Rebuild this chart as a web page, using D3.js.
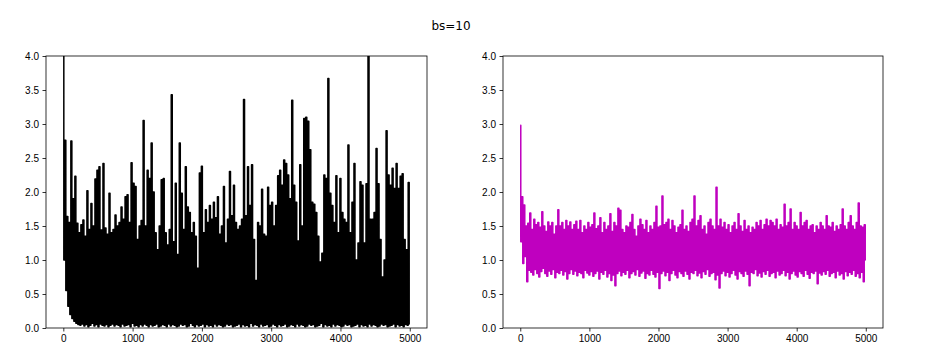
<!DOCTYPE html>
<html>
<head>
<meta charset="utf-8">
<script src="https://cdn.jsdelivr.net/npm/d3@7/dist/d3.min.js"></script>
<style>
  body { margin: 0; background: #fff; }
  svg { display: block; font-family: "DejaVu Sans", sans-serif; }
  .tick text { font-size: 10px; fill: #000; }
  .tick line { stroke: #000; stroke-width: 0.8; }
</style>
</head>
<body>
<script>
// training steps, shown on both x axes
var nSteps = 5000;
var xTicks = [0, 1000, 2000, 3000, 4000, 5000];
var yTicks = [0, 0.5, 1, 1.5, 2, 2.5, 3, 3.5, 4];
var title = "bs=10";

// left plot (black): local highs and lows left to right
var lossPeaks = [
  4.1,2.76,1.64,1.55,2.75,1.9,2.23,1.54,1.4,1.52,
  1.59,1.35,2.02,1.45,1.83,1.5,2.19,2.32,2.37,1.44,
  2.42,1.47,1.38,1.98,1.4,1.45,1.66,1.5,1.55,1.78,
  1.6,1.93,1.96,1.55,2.43,2.13,2.08,1.3,1.5,1.58,
  3.05,1.5,2.32,2.2,2.72,2.0,1.4,1.15,1.5,2.18,
  2.2,1.4,1.22,1.45,3.43,1.27,2.13,1.08,2.72,1.98,
  1.45,2.37,1.78,1.7,1.4,1.55,1.35,0.88,2.28,2.38,
  1.4,1.74,1.55,1.8,1.6,1.85,1.62,1.93,1.38,1.5,
  2.08,1.25,1.6,2.3,1.65,2.1,1.55,1.45,1.5,1.6,
  3.36,1.65,2.37,1.8,2.4,1.3,0.7,1.55,1.5,2.04,
  1.38,1.35,2.07,1.8,1.85,1.5,1.8,2.24,2.32,2.1,
  2.47,2.42,2.25,1.9,3.35,2.1,1.85,1.28,2.4,1.5,
  3.08,3.1,3.04,2.62,1.85,1.82,1.7,1.35,0.97,1.1,
  2.25,2.2,3.67,1.98,1.8,1.55,2.24,1.4,2.2,1.7,
  1.6,1.55,2.69,1.4,1.85,2.42,1.0,1.25,2.15,2.1,
  1.25,2.12,4.1,1.6,1.6,1.7,2.64,2.12,1.3,0.75,
  1.0,2.9,2.25,2.1,2.35,2.05,2.42,2.05,2.23,2.27,
  1.3,1.15,2.14
];
var lossTroughs = [
  1.0,0.55,0.32,0.2,0.14,0.1,0.07,0.05,0.04,0.06,
  0.03,0.05,0.02,0.04,0.07,0.03,0.05,0.02,0.06,0.04,
  0.03,0.05,0.02,0.04,0.06,0.03,0.05,0.04,0.02,0.06,
  0.03,0.04,0.05,0.02,0.07,0.03,0.04,0.02,0.05,0.03,
  0.06,0.04,0.02,0.05,0.03,0.04,0.06,0.02,0.03,0.05,
  0.04,0.02,0.06,0.03,0.05,0.04,0.02,0.03,0.06,0.04,
  0.05,0.02,0.03,0.07,0.04,0.02,0.05,0.03,0.04,0.06,
  0.02,0.05,0.03,0.04,0.02,0.06,0.03,0.05,0.04,0.02,
  0.03,0.06,0.04,0.05,0.02,0.03,0.04,0.06,0.02,0.05,
  0.03,0.04,0.02,0.07,0.03,0.05,0.04,0.02,0.06,0.03,
  0.04,0.05,0.02,0.03,0.06,0.04,0.02,0.05,0.03,0.04,
  0.06,0.02,0.03,0.05,0.04,0.02,0.06,0.03,0.05,0.04,
  0.02,0.03,0.06,0.04,0.05,0.02,0.03,0.04,0.07,0.02,
  0.05,0.03,0.04,0.02,0.06,0.03,0.05,0.04,0.02,0.03,
  0.06,0.04,0.05,0.02,0.03,0.04,0.06,0.02,0.05,0.03,
  0.04,0.02,0.06,0.03,0.05,0.04,0.02,0.03,0.06,0.04,
  0.05,0.02,0.03,0.04,0.06,0.02,0.05,0.03,0.04,0.02,
  0.05,0.04,0.06
];

// right plot (magenta)
var avgPeaks = [
  2.98,1.93,1.81,1.5,1.54,1.69,1.45,1.6,1.52,1.55,
  1.48,1.71,1.5,1.42,1.56,1.5,1.55,1.38,1.5,1.74,
  1.5,1.55,1.45,1.58,1.5,1.56,1.45,1.52,1.57,1.45,
  1.58,1.4,1.5,1.45,1.55,1.48,1.52,1.69,1.46,1.5,
  1.62,1.4,1.55,1.45,1.5,1.68,1.42,1.55,1.5,1.76,
  1.73,1.45,1.4,1.5,1.48,1.55,1.67,1.45,1.35,1.5,
  1.6,1.52,1.45,1.58,1.4,1.5,1.45,1.55,1.79,1.48,
  1.5,1.94,1.52,1.55,1.6,1.45,1.58,1.5,1.4,1.48,
  1.52,1.73,1.45,1.5,1.42,1.55,1.6,1.94,1.5,1.58,
  1.65,1.45,1.5,1.38,1.55,1.6,1.5,1.45,2.07,1.5,
  1.6,1.48,1.55,1.45,1.52,1.4,1.5,1.55,1.45,1.68,
  1.5,1.42,1.58,1.45,1.5,1.4,1.48,1.45,1.55,1.5,
  1.58,1.45,1.52,1.6,1.5,1.58,1.55,1.5,1.6,1.45,
  1.52,1.48,1.82,1.5,1.55,1.75,1.45,1.55,1.5,1.45,
  1.7,1.5,1.55,1.58,1.45,1.5,1.52,1.4,1.5,1.45,
  1.55,1.5,1.45,1.65,1.5,1.48,1.55,1.42,1.5,1.45,
  1.52,1.75,1.5,1.45,1.55,1.65,1.5,1.45,1.55,1.84,
  1.5,1.48,1.52
];
var avgTroughs = [
  1.27,0.95,1.05,0.68,0.85,0.82,0.78,0.86,0.8,0.75,
  0.83,0.88,0.8,0.76,0.84,0.79,0.86,0.74,0.82,0.8,
  0.85,0.78,0.83,0.72,0.8,0.86,0.79,0.84,0.77,0.82,
  0.8,0.74,0.85,0.81,0.78,0.83,0.76,0.8,0.84,0.72,
  0.82,0.79,0.85,0.75,0.8,0.7,0.78,0.62,0.8,0.84,
  0.77,0.82,0.79,0.85,0.74,0.8,0.83,0.78,0.86,0.76,
  0.81,0.84,0.73,0.8,0.78,0.85,0.79,0.75,0.82,0.58,
  0.8,0.84,0.77,0.82,0.7,0.8,0.85,0.78,0.74,0.83,
  0.8,0.76,0.84,0.79,0.72,0.82,0.8,0.85,0.77,0.81,
  0.74,0.83,0.79,0.86,0.76,0.8,0.82,0.71,0.78,0.59,
  0.8,0.84,0.77,0.82,0.75,0.8,0.85,0.78,0.72,0.83,
  0.8,0.76,0.84,0.79,0.62,0.82,0.8,0.86,0.77,0.81,
  0.75,0.83,0.79,0.85,0.76,0.8,0.82,0.74,0.84,0.78,
  0.8,0.85,0.77,0.82,0.72,0.8,0.84,0.78,0.75,0.83,
  0.8,0.76,0.85,0.79,0.73,0.82,0.8,0.84,0.65,0.81,
  0.78,0.83,0.79,0.85,0.76,0.8,0.82,0.74,0.84,0.78,
  0.8,0.72,0.83,0.77,0.82,0.79,0.85,0.76,0.8,0.74,
  0.82,0.68,1.0
];

var width = 930, height = 359;
var plotTop = 56, plotBottom = 328;

var svg = d3.select("body").append("svg")
    .attr("width", width)
    .attr("height", height);

svg.append("text")
    .attr("x", 451)
    .attr("y", 30)
    .attr("text-anchor", "middle")
    .style("font-size", "12px")
    .text(title);

// interleave highs and lows into one series over the step range
function series(peaks, troughs) {
  var n = peaks.length * 2;
  var dx = (nSteps - 1) / (n - 1);
  var pts = [];
  peaks.forEach(function(p, i) {
    pts.push([2 * i * dx, p]);
    pts.push([(2 * i + 1) * dx, troughs[i]]);
  });
  return pts;
}

function panel(id, left, right, data, color) {
  // matplotlib default 5% margins on x
  var pad = (nSteps - 1) * 0.05;
  var x = d3.scaleLinear().domain([-pad, nSteps - 1 + pad]).range([left, right]);
  var y = d3.scaleLinear().domain([0, 4]).range([plotBottom, plotTop]);

  svg.append("clipPath").attr("id", id)
    .append("rect")
      .attr("x", left).attr("y", plotTop)
      .attr("width", right - left).attr("height", plotBottom - plotTop);

  // step curve keeps the dense band solid (the original had ~14 points per pixel)
  var line = d3.line()
      .curve(d3.curveStep)
      .x(function(d) { return x(d[0]); })
      .y(function(d) { return y(d[1]); });

  svg.append("path")
      .datum(data)
      .attr("clip-path", "url(#" + id + ")")
      .attr("fill", "none")
      .attr("stroke", color)
      .attr("stroke-width", 1.5)
      .attr("stroke-linejoin", "round")
      .attr("d", line);

  var xAxis = svg.append("g")
      .attr("transform", "translate(0," + plotBottom + ")")
      .call(d3.axisBottom(x).tickValues(xTicks).tickSize(3.5).tickPadding(3.5)
        .tickSizeOuter(0).tickFormat(d3.format("d")));
  var yAxis = svg.append("g")
      .attr("transform", "translate(" + left + ",0)")
      .call(d3.axisLeft(y).tickValues(yTicks).tickSize(3.5).tickPadding(3.5)
        .tickSizeOuter(0).tickFormat(d3.format(".1f")));
  xAxis.select(".domain").remove();
  yAxis.select(".domain").remove();

  svg.append("rect")
      .attr("x", left).attr("y", plotTop)
      .attr("width", right - left).attr("height", plotBottom - plotTop)
      .attr("fill", "none")
      .attr("stroke", "#000")
      .attr("stroke-width", 0.8);
}

panel("clipLeft", 46, 427, series(lossPeaks, lossTroughs), "#000000");
panel("clipRight", 503, 883, series(avgPeaks, avgTroughs), "#bf00bf");
</script>
</body>
</html>
